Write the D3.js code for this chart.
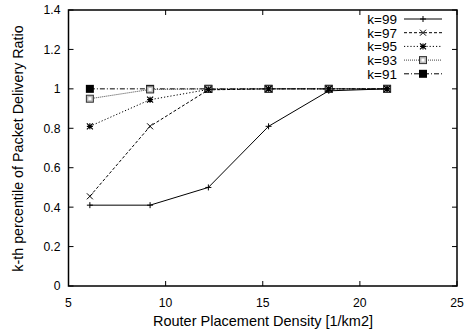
<!DOCTYPE html>
<html><head><meta charset="utf-8">
<script src="https://cdn.jsdelivr.net/npm/d3@7"></script>
<style>body{margin:0;background:#fff}svg{display:block}text{font-family:"Liberation Sans",Arial,sans-serif}</style>
</head><body><svg id="c" width="465" height="335"></svg>
<script>
const xVals = [6.1, 9.2, 12.2, 15.3, 18.4, 21.4];
const seriesNames = ["k=99", "k=97", "k=95", "k=93", "k=91"];
const k99 = [0.41, 0.41, 0.50, 0.81, 0.99, 1.0];
const k97 = [0.455, 0.81, 0.995, 1.0, 1.0, 1.0];
const k95 = [0.81, 0.945, 0.997, 1.0, 1.0, 1.0];
const k93 = [0.95, 0.997, 1.0, 1.0, 1.0, 1.0];
const k91 = [1.0, 1.0, 1.0, 1.0, 1.0, 1.0];
const xTicks = [5, 10, 15, 20, 25];
const yTicks = [0, 0.2, 0.4, 0.6, 0.8, 1, 1.2, 1.4];

const seriesData = [k99, k97, k95, k93, k91];
const dashes = [null, "3,2", "1.2,2", "1,1", "5,2,1,2"];
const markers = ["plus", "cross", "star", "osq", "fsq"];
const strokes = ["#000", "#000", "#000", "#444", "#000"];

const svg = d3.select("#c");
const L = 68.5, R = 457, T = 10, B = 286;
const x = d3.scaleLinear().domain([5, 25]).range([L, R]);
const y = d3.scaleLinear().domain([0, 1.4]).range([B, T]);

const tl = 5;
const g = svg.append("g").attr("stroke", "#000").attr("stroke-width", 1);
xTicks.forEach(t => {
  g.append("line").attr("x1", x(t)).attr("x2", x(t)).attr("y1", B).attr("y2", B - tl);
  g.append("line").attr("x1", x(t)).attr("x2", x(t)).attr("y1", T).attr("y2", T + tl);
});
yTicks.forEach(t => {
  g.append("line").attr("x1", L).attr("x2", L + tl).attr("y1", y(t)).attr("y2", y(t));
  g.append("line").attr("x1", R).attr("x2", R - tl).attr("y1", y(t)).attr("y2", y(t));
});
svg.append("rect").attr("x", L).attr("y", T).attr("width", R - L).attr("height", B - T)
  .attr("fill", "none").attr("stroke", "#000").attr("stroke-width", 1.5);

svg.append("g").selectAll("text").data(xTicks).join("text")
  .attr("x", d => x(d)).attr("y", 307).attr("text-anchor", "middle")
  .attr("font-size", 12.2).text(d => d);
svg.append("g").selectAll("text").data(yTicks).join("text")
  .attr("x", L - 8).attr("y", d => y(d) + 4.4).attr("text-anchor", "end")
  .attr("font-size", 12.2).text(d => d3.format("~g")(d));

svg.append("text").attr("x", 263).attr("y", 326).attr("text-anchor", "middle")
  .attr("font-size", 14.5).text("Router Placement Density [1/km2]");
svg.append("text").attr("transform", `translate(22.5,148.5) rotate(-90)`)
  .attr("text-anchor", "middle").attr("font-size", 14.3)
  .text("k-th percentile of Packet Delivery Ratio");

function drawMarker(sel, type, cx, cy, col) {
  const s = 3;
  if (type === "plus") {
    sel.append("path").attr("d", `M${cx - s},${cy}H${cx + s}M${cx},${cy - s}V${cy + s}`).attr("stroke", col).attr("fill", "none");
  } else if (type === "cross") {
    sel.append("path").attr("d", `M${cx - s},${cy - s}L${cx + s},${cy + s}M${cx - s},${cy + s}L${cx + s},${cy - s}`).attr("stroke", col).attr("fill", "none");
  } else if (type === "star") {
    sel.append("path").attr("d", `M${cx - s},${cy}H${cx + s}M${cx},${cy - s}V${cy + s}M${cx - s},${cy - s}L${cx + s},${cy + s}M${cx - s},${cy + s}L${cx + s},${cy - s}`).attr("stroke", col).attr("fill", "none").attr("stroke-width", 1.2);
  } else if (type === "osq") {
    sel.append("rect").attr("x", cx - 3.5).attr("y", cy - 3.5).attr("width", 7).attr("height", 7).attr("fill", "#bbb").attr("stroke", "#333");
    sel.append("rect").attr("x", cx - 1.5).attr("y", cy - 1.5).attr("width", 3).attr("height", 3).attr("fill", "#fff");
  } else {
    sel.append("rect").attr("x", cx - 4).attr("y", cy - 4).attr("width", 8).attr("height", 8).attr("fill", "#000");
  }
}

const line = d3.line().x(d => x(d[0])).y(d => y(d[1]));
for (let i = seriesData.length - 1; i >= 0; i--) {
  const pts = xVals.map((xv, j) => [xv, seriesData[i][j]]);
  const gg = svg.append("g");
  gg.append("path").attr("d", line(pts)).attr("fill", "none").attr("stroke", strokes[i])
    .attr("stroke-width", 1).attr("stroke-dasharray", dashes[i]);
  pts.forEach(p => drawMarker(gg, markers[i], x(p[0]), y(p[1]), strokes[i]));
}

const lg = svg.append("g");
seriesNames.forEach((n, i) => {
  const ly = 19 + i * 13.7;
  lg.append("text").attr("x", 397).attr("y", ly + 4.8).attr("text-anchor", "end").attr("font-size", 13.5).text(n);
  lg.append("line").attr("x1", 404).attr("x2", 442).attr("y1", ly).attr("y2", ly)
    .attr("stroke", strokes[i]).attr("stroke-dasharray", dashes[i]);
  drawMarker(lg, markers[i], 423, ly, strokes[i]);
});
</script></body></html>
